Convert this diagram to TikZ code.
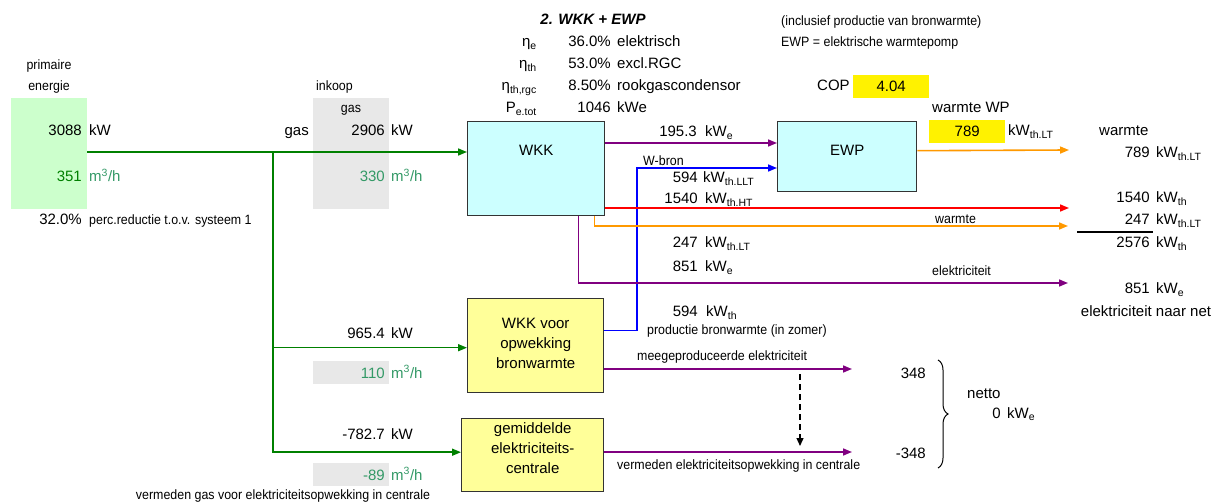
\documentclass[tikz,border=0pt]{standalone}
\usepackage{fontspec}
\setmainfont{Liberation Sans}
\newfontfamily\narrowfont[FakeStretch=0.92]{Liberation Sans}
\usetikzlibrary{arrows.meta,decorations.pathreplacing}
\definecolor{flowgreen}{HTML}{008000}
\definecolor{seagreen}{HTML}{339966}
\definecolor{flowpurple}{HTML}{800080}
\definecolor{floworange}{HTML}{FF9900}
\definecolor{palegreen}{HTML}{CCFFCC}
\definecolor{palegrey}{HTML}{E8E8E8}
\definecolor{palecyan}{HTML}{CCFFFF}
\definecolor{paleyellow}{HTML}{FFFF99}
\definecolor{boxline}{HTML}{333333}
\tikzstyle{txt} = [inner sep=0pt, font=\fontsize{15}{18}\selectfont]
\tikzstyle{smalltxt} = [inner sep=0pt, font=\fontsize{13.5}{16}\narrowfont]
\tikzstyle{numtxt} = [txt, anchor=base east]
\tikzstyle{unittxt} = [txt, anchor=base west]
\tikzstyle{notetxt} = [smalltxt, anchor=base west]
\tikzstyle{cell} = [inner sep=0pt, anchor=north west, font=\fontsize{15}{18}\selectfont]
\tikzstyle{proc} = [draw=boxline, line width=1.4pt, inner sep=0pt, anchor=north west]
\tikzstyle{proctxt} = [inner sep=0pt, align=center, font=\fontsize{15}{20}\selectfont]
\tikzstyle{flow} = [line width=1.6pt, -{Triangle[length=9pt,width=7pt]}]
\newcommand{\kWsub}[1]{kW\textsubscript{#1}}
\newcommand{\mcubeh}{m\textsuperscript{3}/h}

\begin{document}
\begin{tikzpicture}[x=1pt,y=-1pt]
	\useasboundingbox (0,0) rectangle (1223,502);

	\node(prim) [cell, fill=palegreen, minimum width=76pt, minimum height=111pt] at (11,98) {};
	\node(inkoop) [cell, fill=palegrey, minimum width=76pt, minimum height=111pt] at (313,98) {};
	\node(cellbron) [cell, fill=palegrey, minimum width=76pt, minimum height=23pt] at (313,361) {};
	\node(cellcentr) [cell, fill=palegrey, minimum width=76pt, minimum height=23pt] at (313,463) {};
	\node(copval) [cell, fill=yellow, minimum width=76pt, minimum height=23pt] at (853,75) {4.04};
	\node(wpval) [cell, fill=yellow, minimum width=76pt, minimum height=23pt] at (929,120) {789};

	\node(wkk) [proc, fill=palecyan, minimum width=137pt, minimum height=94pt] at (467,121) {};
	\node(wkktxt) [proctxt, anchor=north] at ([yshift=-24pt]wkk.north) {WKK};
	\node(ewp) [proc, fill=palecyan, minimum width=139pt, minimum height=70pt] at (777,121) {};
	\node(ewptxt) [proctxt, anchor=north] at ([yshift=-24pt]ewp.north) {EWP};
	\node(wkkbron) [proc, fill=paleyellow, minimum width=136pt, minimum height=94pt] at (467,298) {};
	\node(wkkbrontxt) [proctxt] at ([yshift=2pt]wkkbron.center) {WKK voor\\opwekking\\bronwarmte};
	\node(centrale) [proc, fill=paleyellow, minimum width=142pt, minimum height=73pt] at (461,418) {};
	\node(centraletxt) [proctxt] at ([yshift=7pt]centrale.center) {gemiddelde\\elektriciteits-\\centrale};

	% kop en rendementen
	\node(titel) [txt, anchor=base, font=\fontsize{15}{18}\selectfont\bfseries\itshape] at (593,25) {2. WKK + EWP};
	\node(etae) [numtxt] at (537,47) {η\textsubscript{e}};
	\node(etath) [numtxt] at (537,69) {η\textsubscript{th}};
	\node(etargc) [numtxt] at (537,91) {η\textsubscript{th,rgc}};
	\node(petot) [numtxt] at (537,113) {P\textsubscript{e.tot}};
	\node(etaeval) [numtxt] at (611,47) {36.0\%};
	\node(etathval) [numtxt] at (611,69) {53.0\%};
	\node(etargcval) [numtxt] at (611,91) {8.50\%};
	\node(petotval) [numtxt] at (611,113) {1046};
	\node(etaetxt) [unittxt] at (617,47) {elektrisch};
	\node(etathtxt) [unittxt] at (617,69) {excl.RGC};
	\node(etargctxt) [unittxt] at (617,91) {rookgascondensor};
	\node(petottxt) [unittxt] at (617,113) {kWe};
	\node(incl) [notetxt] at (781,26) {(inclusief productie van bronwarmte)};
	\node(ewpdef) [notetxt] at (781,47) {EWP = elektrische warmtepomp};
	\node(cop) [unittxt] at (817,91) {COP};
	\node(warmtewp) [unittxt] at (932,113) {warmte WP};
	\node(wpunit) [unittxt] at (1008,136) {\kWsub{th.LT}};

	% primaire energie en inkoop
	\node(primtxt) [smalltxt, anchor=base] at (49,70) {primaire};
	\node(primtxtb) [smalltxt, anchor=base] at (49,91) {energie};
	\node(primkw) [numtxt] at (82,136) {3088};
	\node(primkwu) [unittxt] at (89,136) {kW};
	\node(primm) [numtxt, text=flowgreen] at (82,182) {351};
	\node(primmu) [unittxt, text=seagreen] at (89,182) {\mcubeh};
	\node(reductie) [numtxt] at (82,225) {32.0\%};
	\node(reductietxt) [notetxt] at (89,225) {perc.reductie t.o.v. systeem 1};
	\node(inkooptxt) [notetxt] at (316,91) {inkoop};
	\node(inkoopgas) [smalltxt, anchor=base] at (351,113) {gas};
	\node(gaslbl) [numtxt] at (309,136) {gas};
	\node(inkoopkw) [numtxt] at (385,136) {2906};
	\node(inkoopkwu) [unittxt] at (391,136) {kW};
	\node(inkoopm) [numtxt, text=seagreen] at (385,182) {330};
	\node(inkoopmu) [unittxt, text=seagreen] at (391,182) {\mcubeh};
	\node(bronkw) [numtxt] at (385,338) {965.4};
	\node(bronkwu) [unittxt] at (391,338) {kW};
	\node(bronm) [numtxt, text=seagreen] at (385,378) {110};
	\node(bronmu) [unittxt, text=seagreen] at (391,378) {\mcubeh};
	\node(centrkw) [numtxt] at (385,439) {-782.7};
	\node(centrkwu) [unittxt] at (391,439) {kW};
	\node(centrm) [numtxt, text=seagreen] at (385,480) {-89};
	\node(centrmu) [unittxt, text=seagreen] at (391,480) {\mcubeh};
	\node(vermgas) [smalltxt, anchor=base] at (283,499) {vermeden gas voor elektriciteitsopwekking in centrale};

	% gasstromen
	\coordinate(split) at (273,152);
	\draw[flow, flowgreen] (prim.east |- split) -- (split -| wkk.west);
	\draw[flow, flowgreen] (split) |- ([yshift=-2pt]wkkbron.west);
	\draw[flow, flowgreen] (split) |- ([yshift=3pt]centrale.west);

	% stromen uit WKK en EWP
	\coordinate(bron) at (637,168);
	\coordinate(endlt) at (1069,150);
	\coordinate(endht) at (1069,208);
	\coordinate(endwarm) at (1068,226);
	\coordinate(endel) at (1068,283);
	\coordinate(endmee) at (852,369);
	\coordinate(endverm) at (852,452);
	\draw[flow, flowpurple] ([yshift=-22pt]wkk.north east) -- ([yshift=-22pt]wkk.north east -| ewp.west);
	\draw[flow, blue] ([yshift=15pt]wkkbron.east) -| (bron) -- (bron -| ewp.west);
	\draw[flow, floworange] ([yshift=6pt]ewp.east) -- (endlt);
	\draw[flow, red] (wkk.east |- endht) -- (endht);
	\draw[flow, floworange] ([xshift=-11pt]wkk.south east) |- (endwarm);
	\draw[flow, flowpurple] ([xshift=-27pt]wkk.south east) |- (endel);
	\draw[flow, flowpurple] (wkkbron.east |- endmee) -- (endmee);
	\draw[flow, flowpurple] (centrale.east |- endverm) -- (endverm);
	\draw[line width=1.3pt, dash pattern=on 6pt off 4pt, -{Triangle[length=8pt,width=7pt]}] (800,374) -- (800,446);

	\node(wkkewp) [numtxt] at (697,137) {195.3};
	\node(wkkewpu) [unittxt] at (705,137) {\kWsub{e}};
	\node(wbron) [notetxt] at (643,166) {W-bron};
	\node(bronllt) [numtxt] at (698,183) {594};
	\node(bronlltu) [unittxt] at (703,183) {\kWsub{th.LLT}};
	\node(ht) [numtxt] at (698,204) {1540};
	\node(htu) [unittxt] at (705,204) {\kWsub{th.HT}};
	\node(warmtelbl) [notetxt] at (935,224) {warmte};
	\node(lt) [numtxt] at (698,248) {247};
	\node(ltu) [unittxt] at (705,248) {\kWsub{th.LT}};
	\node(el) [numtxt] at (698,272) {851};
	\node(elu) [unittxt] at (705,272) {\kWsub{e}};
	\node(ellbl) [notetxt] at (932,276) {elektriciteit};
	\node(bronth) [numtxt] at (698,317) {594};
	\node(bronthu) [unittxt] at (706,317) {\kWsub{th}};
	\node(productie) [notetxt] at (647,335) {productie bronwarmte (in zomer)};
	\node(meege) [notetxt] at (637,361) {meegeproduceerde elektriciteit};
	\node(vermel) [notetxt] at (617,469) {vermeden elektriciteitsopwekking in centrale};

	% totalen rechts
	\node(warmtetot) [unittxt] at (1099,136) {warmte};
	\node(totlt) [numtxt] at (1150,158) {789};
	\node(totltu) [unittxt] at (1156,158) {\kWsub{th.LT}};
	\node(totht) [numtxt] at (1150,203) {1540};
	\node(tothtu) [unittxt] at (1156,203) {\kWsub{th}};
	\node(totwarm) [numtxt] at (1150,225) {247};
	\node(totwarmu) [unittxt] at (1156,225) {\kWsub{th.LT}};
	\draw[line width=1.8pt] (1077,232) -- (1153,232);
	\node(totsom) [numtxt] at (1150,248) {2576};
	\node(totsomu) [unittxt] at (1156,248) {\kWsub{th}};
	\node(totel) [numtxt] at (1150,294) {851};
	\node(totelu) [unittxt] at (1156,294) {\kWsub{e}};
	\node(naarnet) [txt, anchor=base] at (1146,317) {elektriciteit naar net};

	% netto elektriciteit
	\node(plus) [numtxt] at (926,378) {348};
	\node(min) [numtxt] at (926,458) {-348};
	\draw[line width=1pt, decorate, decoration={brace, amplitude=10pt}] (938,360) -- (938,468);
	\node(netto) [unittxt] at (967,398) {netto};
	\node(nul) [numtxt] at (1001,418) {0};
	\node(nulu) [unittxt] at (1007,418) {\kWsub{e}};
\end{tikzpicture}
\end{document}
